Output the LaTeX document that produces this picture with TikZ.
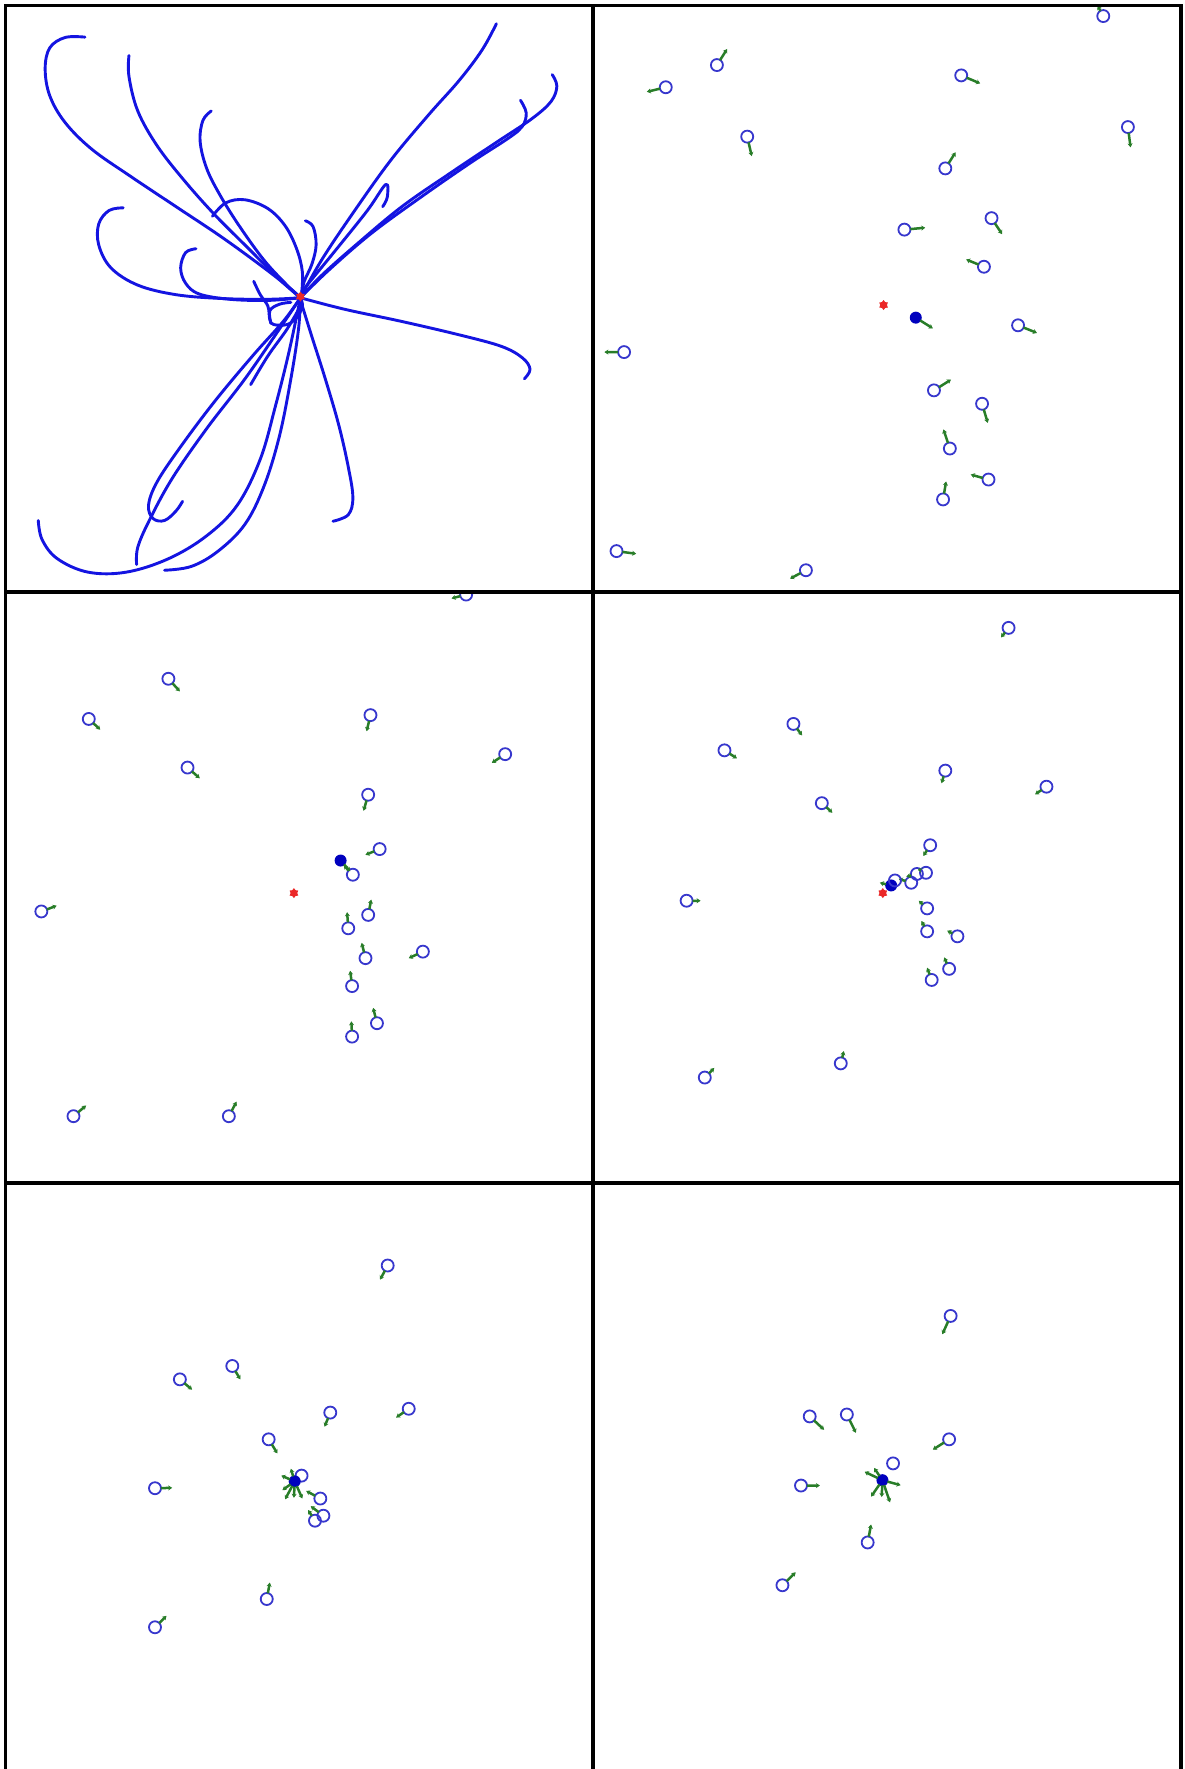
\documentclass[tikz,border=0pt]{standalone}
\usetikzlibrary{arrows.meta,shapes.geometric}
\definecolor{trajblue}{RGB}{20,20,225}
\definecolor{ptblue}{RGB}{55,55,205}
\definecolor{tgtblue}{RGB}{0,0,190}
\definecolor{arrgreen}{RGB}{40,125,40}
\definecolor{srcred}{RGB}{235,40,40}
\tikzset{
  traj/.style={draw=trajblue, line width=2.9pt, line cap=round, line join=round},
  pc/.style={circle, draw=ptblue, line width=1.8pt, minimum size=12pt, inner sep=0pt},
  garr/.style={draw=arrgreen, line width=2.5pt, -{Stealth[length=4pt,width=5pt]}, shorten <=-1pt},
  tgt/.style={circle, fill=tgtblue, minimum size=12pt, inner sep=0pt},
  src/.style={star, star points=6, fill=srcred, minimum size=10pt, inner sep=0pt},
  frame/.style={draw=black, line width=3.5pt}
}
\newcommand\prt[3]{\node[pc] (#1) at (#2) {}; \draw[garr] (#1) -- (#3);}
\begin{document}
\begin{tikzpicture}[x=1pt,y=-1pt]
\useasboundingbox (0,0) rectangle (1184,1769);
\fill[white] (0,0) rectangle (1184,1769);

% ---------------- Panel 1: trajectories ----------------
\begin{scope}
\clip (5.5,5.5) rectangle (593,592);
\begin{scope}[scale=0.3827]
\draw[traj] plot[smooth, tension=0.6] coordinates {(222,97) (170,98) (130,125) (118,180) (130,250) (170,320) (240,390) (340,460) (460,540) (580,620) (690,700) (760,755) (785,778)};
\draw[traj] plot[smooth, tension=0.6] coordinates {(337,145) (337,200) (360,290) (410,380) (480,470) (560,560) (650,650) (730,730) (785,778)};
\draw[traj] plot[smooth, tension=0.6] coordinates {(552,290) (530,315) (523,370) (540,440) (575,510) (625,590) (690,680) (750,745) (785,778)};
\draw[traj] plot[smooth, tension=0.6] coordinates {(555,565) (590,530) (640,522) (700,545) (745,590) (775,650) (790,710) (788,770)};
\draw[traj] plot[smooth, tension=0.6] coordinates {(798,577) (818,592) (826,640) (815,690) (795,735) (788,770)};
\draw[traj] plot[smooth, tension=0.6] coordinates {(322,543) (285,550) (258,585) (258,640) (290,700) (360,745) (460,770) (580,780) (700,782) (785,778)};
\draw[traj] plot[smooth, tension=0.6] coordinates {(512,650) (485,660) (472,700) (485,740) (520,768) (600,782) (700,785) (785,778)};
\draw[traj] plot[smooth, tension=0.6] coordinates {(663,735) (680,770) (700,800) (705,835) (715,848) (750,848) (775,830) (790,800) (785,778)};
\draw[traj] plot[smooth, tension=0.6] coordinates {(760,790) (730,795) (705,812) (708,845)};
\draw[traj] plot[smooth, tension=0.6] coordinates {(1297,62) (1260,130) (1200,210) (1120,300) (1020,420) (920,560) (840,680) (785,778)};
\draw[traj] plot[smooth, tension=0.6] coordinates {(790,760) (880,650) (960,550) (1008,482) (1012,515) (1000,540)};
\draw[traj] plot[smooth, tension=0.6] coordinates {(1443,195) (1455,225) (1440,265) (1390,310) (1300,370) (1180,450) (1050,540) (930,640) (840,720) (785,778)};
\draw[traj] plot[smooth, tension=0.6] coordinates {(1360,262) (1375,295) (1365,330) (1330,360) (1230,425) (1100,515) (970,610) (860,705) (785,778)};
\draw[traj] plot[smooth, tension=0.6] coordinates {(785,778) (900,808) (1050,840) (1200,875) (1310,905) (1365,935) (1385,965) (1370,990)};
\draw[traj] plot[smooth, tension=0.6] coordinates {(790,800) (815,880) (850,990) (885,1110) (910,1220) (922,1300) (910,1345) (870,1362)};
\draw[traj] plot[smooth, tension=0.6] coordinates {(785,778) (740,840) (660,930) (560,1050) (470,1170) (410,1260) (388,1320) (400,1355) (430,1360) (460,1335) (477,1310)};
\draw[traj] plot[smooth, tension=0.6] coordinates {(785,778) (730,860) (640,990) (540,1120) (450,1250) (390,1360) (360,1430) (357,1475)};
\draw[traj] plot[smooth, tension=0.6] coordinates {(100,1360) (110,1410) (150,1460) (230,1495) (330,1495) (440,1460) (540,1400) (620,1320) (680,1200) (720,1060) (755,920) (785,778)};
\draw[traj] plot[smooth, tension=0.6] coordinates {(430,1490) (500,1480) (570,1440) (640,1370) (690,1270) (730,1140) (760,990) (780,860) (785,778)};
\draw[traj] plot[smooth, tension=0.6] coordinates {(655,1005) (700,930) (750,860) (785,800)};
\node[src] (s1) at (785,775) {};
\end{scope}
\end{scope}

% ---------------- Panel 2 ----------------
\begin{scope}
\clip (593,5.5) rectangle (1181,592);
\begin{scope}[shift={(590,0)}, xscale=0.3788, yscale=0.3827]
\prt{b1}{1355,42}{1340,15}
\prt{b2}{335,170}{362,128}
\prt{b3}{200,228}{150,240}
\prt{b4}{980,197}{1030,218}
\prt{b5}{1420,332}{1427,385}
\prt{b6}{415,357}{427,408}
\prt{b7}{938,440}{965,398}
\prt{b8}{830,600}{885,595}
\prt{b9}{1060,570}{1088,612}
\prt{b10}{1040,697}{993,678}
\prt{b11}{1130,850}{1180,870}
\prt{b12}{90,920}{38,920}
\prt{b13}{908,1020}{953,992}
\prt{b14}{1035,1055}{1050,1105}
\prt{b15}{950,1172}{933,1122}
\prt{b16}{1052,1253}{1005,1240}
\prt{b17}{932,1305}{940,1258}
\prt{b18}{70,1440}{122,1447}
\prt{b19}{570,1490}{528,1512}
\node[src] (s2) at (775,797) {};
\node[tgt] (t2) at (860,830) {};
\draw[garr] (t2) -- (905,858);
\end{scope}
\end{scope}

% ---------------- Panel 3 ----------------
\begin{scope}
\clip (5.5,592) rectangle (593,1183);
\begin{scope}[shift={(0,585)}, scale=0.3827]
\prt{c1}{1218,25}{1180,35}
\prt{c2}{440,245}{470,278}
\prt{c3}{232,350}{262,378}
\prt{c4}{968,340}{958,382}
\prt{c5}{1320,442}{1285,465}
\prt{c6}{490,477}{522,505}
\prt{c7}{962,548}{950,590}
\prt{c8}{992,690}{955,705}
\prt{c9}{922,757}{898,732}
\prt{c11}{108,853}{148,838}
\prt{c12}{962,862}{970,822}
\prt{c13}{910,897}{907,855}
\prt{c14}{1105,958}{1068,975}
\prt{c15}{955,975}{945,935}
\prt{c16}{920,1048}{915,1008}
\prt{c17}{985,1145}{975,1105}
\prt{c18}{920,1180}{918,1140}
\prt{c19}{192,1388}{225,1360}
\prt{c20}{598,1388}{618,1350}
\node[src] (s3) at (768,805) {};
\node[tgt] (t3) at (890,720) {};
\draw[garr] (t3) -- (915,748);
\end{scope}
\end{scope}

% ---------------- Panel 4 ----------------
\begin{scope}
\clip (593,592) rectangle (1181,1183);
\begin{scope}[shift={(590,585)}, xscale=0.3788, yscale=0.3827]
\prt{d1}{1105,112}{1085,137}
\prt{d2}{537,363}{560,393}
\prt{d3}{355,432}{388,453}
\prt{d4}{938,485}{928,518}
\prt{d5}{1205,527}{1175,547}
\prt{d6}{612,570}{640,595}
\prt{d7}{898,680}{880,708}
\prt{d8}{848,778}{815,768}
\prt{d9}{863,755}{835,762}
\prt{d10}{887,752}{866,742}
\prt{d11}{255,825}{292,825}
\prt{d12}{890,845}{868,825}
\prt{d13}{890,905}{875,878}
\prt{d14}{970,918}{943,903}
\prt{d15}{948,1003}{935,973}
\prt{d16}{902,1032}{890,1000}
\prt{d17}{303,1287}{328,1262}
\prt{d18}{662,1250}{670,1218}
\node[src] (s4) at (773,805) {};
\node[tgt] (t4) at (795,785) {};
\node[pc] (d19) at (805,772) {};
\draw[garr] (t4) -- (765,778);
\end{scope}
\end{scope}

% ---------------- Panel 5 ----------------
\begin{scope}
\clip (5.5,1183) rectangle (593,1769);
\begin{scope}[shift={(0,1170)}, xscale=0.3827, yscale=0.382]
\prt{e1}{1013,250}{993,287}
\prt{e2}{607,513}{628,548}
\prt{e3}{470,548}{502,575}
\prt{e4}{863,635}{848,672}
\prt{e5}{1068,625}{1035,648}
\prt{e6}{702,705}{725,742}
\prt{e7}{405,833}{450,832}
\prt{e8}{837,860}{800,840}
\prt{e9}{845,905}{812,880}
\prt{e10}{823,918}{805,890}
\prt{e11}{697,1123}{705,1080}
\prt{e12}{405,1197}{435,1167}
\node[pc] (e13) at (788,800) {};
\node[tgt] (t5) at (770,815) {};
\draw[garr] (t5) -- (735,800);
\draw[garr] (t5) -- (745,862);
\draw[garr] (t5) -- (790,860);
\draw[garr] (t5) -- (738,838);
\draw[garr] (t5) -- (760,782);
\draw[garr] (t5) -- (768,858);
\end{scope}
\end{scope}

% ---------------- Panel 6 ----------------
\begin{scope}
\clip (593,1183) rectangle (1181,1769);
\begin{scope}[shift={(590,1170)}, xscale=0.3788, yscale=0.382]
\prt{f1}{952,382}{930,430}
\prt{f2}{580,645}{618,680}
\prt{f3}{678,640}{702,688}
\prt{f4}{948,705}{905,732}
\node[pc] (f5) at (800,768) {};
\prt{f6}{557,826}{607,826}
\prt{f7}{733,975}{742,928}
\prt{f8}{508,1087}{543,1053}
\node[tgt] (t6) at (772,812) {};
\draw[garr] (t6) -- (725,790);
\draw[garr] (t6) -- (742,855);
\draw[garr] (t6) -- (792,870);
\draw[garr] (t6) -- (820,825);
\draw[garr] (t6) -- (750,780);
\draw[garr] (t6) -- (770,856);
\end{scope}
\end{scope}

% ---------------- Frame ----------------
\draw[frame] (5.5,1769) -- (5.5,5.5) -- (1181,5.5) -- (1181,1769);
\draw[frame] (593,5.5) -- (593,1769);
\draw[frame] (5.5,592) -- (1181,592);
\draw[frame] (5.5,1183) -- (1181,1183);
\end{tikzpicture}
\end{document}
